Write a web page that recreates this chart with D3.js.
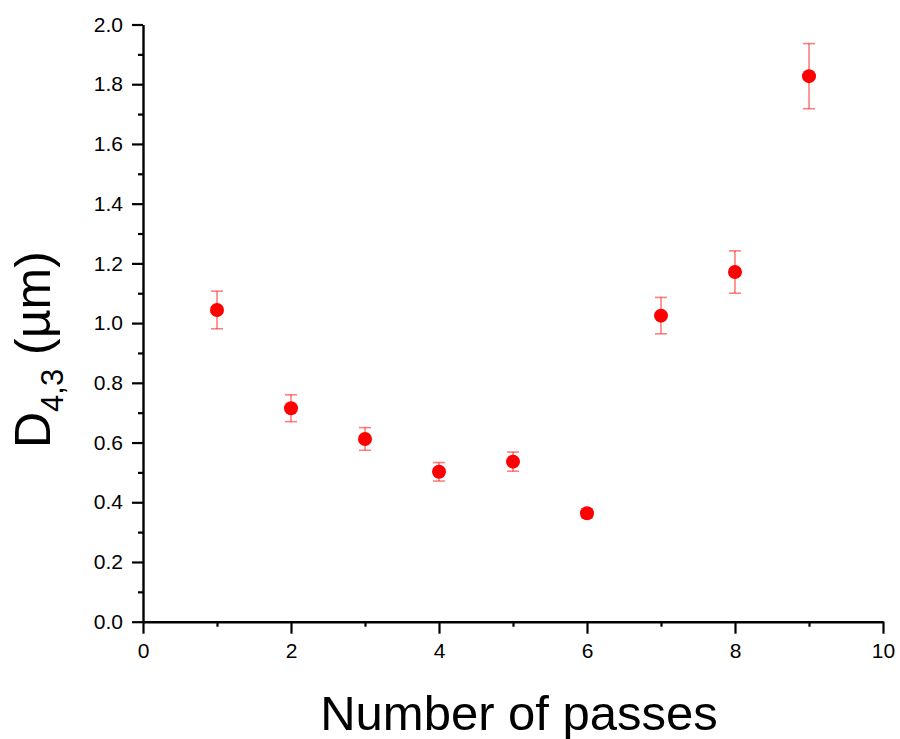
<!DOCTYPE html>
<html>
<head>
<meta charset="utf-8">
<script src="https://cdn.jsdelivr.net/npm/d3@7"></script>
<style>
  html, body { margin: 0; padding: 0; background: #fff; }
  svg { display: block; }
  text { font-family: "Liberation Sans", Arial, sans-serif; fill: #000; }
</style>
</head>
<body>
<svg id="chart" width="900" height="739"></svg>
<script>
// ---- data ----
const passes = [1, 2, 3, 4, 5, 6, 7, 8, 9];
const d43 = [1.044, 0.715, 0.612, 0.502, 0.536, 0.363, 1.025, 1.171, 1.827];
const d43Err = [0.063, 0.045, 0.038, 0.031, 0.032, 0.015, 0.061, 0.071, 0.109];
const xTicks = [0, 2, 4, 6, 8, 10];
const xMinorTicks = [1, 3, 5, 7, 9];
const yTicks = [0.0, 0.2, 0.4, 0.6, 0.8, 1.0, 1.2, 1.4, 1.6, 1.8, 2.0];
const yMinorTicks = [0.1, 0.3, 0.5, 0.7, 0.9, 1.1, 1.3, 1.5, 1.7, 1.9];
const xLabel = "Number of passes";

const svg = d3.select("#chart");
const x = d3.scaleLinear().domain([0, 10]).range([143, 883]);
const y = d3.scaleLinear().domain([0, 2]).range([621.7, 24.5]);

// minor ticks
svg.append("g").attr("transform", `translate(0,${y(0)})`)
  .call(d3.axisBottom(x).tickValues(xMinorTicks).tickSize(5).tickFormat("").tickSizeOuter(0))
  .call(g => g.select(".domain").remove())
  .call(g => g.selectAll("line").attr("stroke-width", 2.2));
svg.append("g").attr("transform", `translate(${x(0)},0)`)
  .call(d3.axisLeft(y).tickValues(yMinorTicks).tickSize(5).tickFormat("").tickSizeOuter(0))
  .call(g => g.select(".domain").remove())
  .call(g => g.selectAll("line").attr("stroke-width", 2.2));

// major axes
const xAxis = svg.append("g").attr("transform", `translate(0,${y(0)})`)
  .call(d3.axisBottom(x).tickValues(xTicks).tickSize(12).tickPadding(9).tickSizeOuter(0).tickFormat(d3.format("d")));
const yAxis = svg.append("g").attr("transform", `translate(${x(0)},0)`)
  .call(d3.axisLeft(y).tickValues(yTicks).tickSize(11).tickPadding(9).tickSizeOuter(0).tickFormat(d3.format(".1f")));
[xAxis, yAxis].forEach(a => {
  a.select(".domain").attr("stroke-width", 2.4).attr("stroke", "#000");
  a.selectAll(".tick line").attr("stroke-width", 2.2).attr("stroke", "#000");
  a.selectAll(".tick text").attr("font-size", 21).attr("font-family", "Liberation Sans, Arial, sans-serif").attr("fill", "#222");
});

// error bars
const eb = svg.append("g").attr("stroke", "#ff0000").attr("stroke-opacity", 0.5).attr("stroke-width", 1.6);
passes.forEach((p, i) => {
  const cx = x(p), top = y(d43[i] + d43Err[i]), bot = y(d43[i] - d43Err[i]);
  eb.append("line").attr("x1", cx).attr("x2", cx).attr("y1", top).attr("y2", bot);
  eb.append("line").attr("x1", cx - 6).attr("x2", cx + 6).attr("y1", top).attr("y2", top);
  eb.append("line").attr("x1", cx - 6).attr("x2", cx + 6).attr("y1", bot).attr("y2", bot);
});

// points
svg.append("g").selectAll("circle").data(passes).join("circle")
  .attr("cx", d => x(d)).attr("cy", (d, i) => y(d43[i])).attr("r", 7).attr("fill", "#ff0000");

// axis titles
svg.append("text").attr("x", 519).attr("y", 730)
  .attr("text-anchor", "middle").attr("font-size", 49).text(xLabel);

const yl = svg.append("text").attr("transform", "translate(50,448) rotate(-90)")
  .attr("font-size", 50);
yl.append("tspan").text("D");
yl.append("tspan").attr("font-size", 31).attr("dy", 13).text("4,3");
yl.append("tspan").attr("dy", -13).text(" (µm)");
</script>
</body>
</html>
